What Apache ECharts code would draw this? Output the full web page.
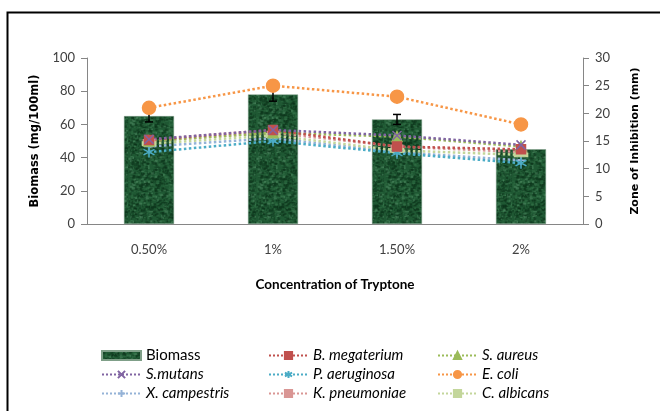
<!DOCTYPE html>
<html><head><meta charset="utf-8">
<script src="https://cdn.jsdelivr.net/npm/echarts@6/dist/echarts.min.js"></script>
<style>html,body{margin:0;padding:0;background:#fff}#c{width:660px;height:411px}</style>
</head><body><div id="c"></div>
<script>
const categories = ['0.50%', '1%', '1.50%', '2%'];
const biomass = [65, 78, 63, 45];
const biomassErr = [3.5, 4, 3, 2];
const sMutans = [15.3, 17, 16, 14.3];
const bMegaterium = [15.2, 17, 14, 13.5];
const sAureus = [15, 16.5, 15.8, 14];
const pAeruginosa = [13, 15, 12.8, 11];
const eColi = [21, 25, 23, 18];
const xCampestris = [14, 15.5, 13, 11.5];
const kPneumoniae = [15, 16.5, 14, 13];
const cAlbicans = [14.5, 16, 13.3, 12.5];
const leftTicks = {min: 0, max: 100, interval: 20};
const rightTicks = {min: 0, max: 30, interval: 5};

// texture for bars (style only)
const tex = document.createElement('canvas');
tex.width = 64; tex.height = 64;
(function(){
  const g = tex.getContext('2d');
  g.fillStyle = '#1f5833'; g.fillRect(0,0,64,64);
  let s = 98765;
  function r(){ s = (s * 1103515245 + 12345) & 0x7fffffff; return s / 0x7fffffff; }
  for (let i = 0; i < 1400; i++) {
    const x = r()*64, y = r()*64, v = r();
    g.fillStyle = v < 0.55 ? 'rgba(12,50,25,0.5)' : (v < 0.88 ? 'rgba(50,112,72,0.45)' : 'rgba(100,160,120,0.35)');
    g.fillRect(x, y, 1 + r()*2.5, 1 + r()*1.5);
  }
})();
const texColor = {image: tex, repeat: 'repeat'};

const FONT = 'Lato';
const chart = echarts.init(document.getElementById('c'), null, {renderer: 'canvas'});

function lineSeries(name, data, color, symbol, size, extra) {
  return Object.assign({
    name, type: 'line', yAxisIndex: 1, data,
    symbol, symbolSize: size,
    lineStyle: {color, width: 2.5, type: 'dotted'},
    itemStyle: {color, borderColor: color, borderWidth: 1.5},
    z: 5
  }, extra || {});
}

const crossP = 'path://M0,0L10,10M10,0L0,10';
const astP = 'path://M5,0L5,10M0,2.5L10,7.5M0,7.5L10,2.5';
const plusP = 'path://M5,0L5,10M0,5L10,5';

const legendBase = {orient: 'vertical', top: 343, itemWidth: 39, itemHeight: 9, itemGap: 4,
  textStyle: {fontSize: 15, color: '#000', fontStyle: 'italic', fontFamily: FONT}};

const option = {
  animation: false,
  textStyle: {fontFamily: FONT},
  graphic: [{type: 'rect', left: 5, top: 10, shape: {width: 700, height: 450}, style: {fill: 'none', stroke: '#000', lineWidth: 2}, silent: true}],
  grid: {left: 87, right: 77, top: 58, bottom: 187},
  xAxis: {
    type: 'category', data: categories,
    axisLine: {lineStyle: {color: '#868686', width: 1}},
    axisTick: {length: 6, lineStyle: {color: '#868686'}},
    axisLabel: {color: '#404040', fontSize: 13, margin: 19, fontFamily: FONT},
    name: 'Concentration of Tryptone', nameLocation: 'middle', nameGap: 54,
    nameTextStyle: {color: '#000', fontWeight: 'bold', fontSize: 13.5, fontFamily: FONT}
  },
  yAxis: [{
    type: 'value', min: leftTicks.min, max: leftTicks.max, interval: leftTicks.interval,
    splitLine: {show: false},
    axisLine: {show: true, lineStyle: {color: '#868686'}},
    axisTick: {show: true, length: 6, lineStyle: {color: '#868686'}},
    axisLabel: {color: '#404040', fontSize: 13, margin: 12, fontFamily: FONT},
    name: 'Biomass (mg/100ml)', nameLocation: 'middle', nameGap: 43, nameRotate: 90,
    nameTextStyle: {color: '#000', fontWeight: 'bold', fontSize: 11.5, fontFamily: 'DejaVu Sans'}
  }, {
    type: 'value', min: rightTicks.min, max: rightTicks.max, interval: rightTicks.interval,
    splitLine: {show: false},
    axisLine: {show: true, lineStyle: {color: '#868686'}},
    axisTick: {show: true, length: 6, lineStyle: {color: '#868686'}},
    axisLabel: {color: '#404040', fontSize: 13, margin: 12, fontFamily: FONT},
    name: 'Zone of Inhibition (mm)', nameLocation: 'middle', nameGap: 47, nameRotate: 90,
    nameTextStyle: {color: '#000', fontWeight: 'bold', fontSize: 11, fontFamily: 'DejaVu Sans'}
  }],
  legend: [
    Object.assign({}, legendBase, {left: 96,
     data: [{name: 'Biomass', icon: 'rect', textStyle: {fontStyle: 'normal'}}, 'S.mutans', 'X. campestris']}),
    Object.assign({}, legendBase, {left: 263,
     data: ['B. megaterium', 'P. aeruginosa', 'K. pneumoniae']}),
    Object.assign({}, legendBase, {left: 432,
     data: ['S. aureus', 'E. coli', 'C. albicans']})
  ],
  series: [
    {name: 'Biomass', type: 'bar', data: biomass, barWidth: 50,
     itemStyle: {color: texColor, borderColor: '#7f9f88', borderWidth: 0.5}, z: 2},
    {name: 'err', type: 'custom', yAxisIndex: 0, z: 4,
     data: biomass.map((v, i) => [i, v, biomassErr[i]]),
     renderItem: function (params, api) {
       const x = api.value(0), v = api.value(1), e = api.value(2);
       const hi = api.coord([x, v + e]), lo = api.coord([x, v - e]);
       const w = 4;
       return {type: 'group', children: [
         {type: 'line', shape: {x1: hi[0], y1: hi[1], x2: lo[0], y2: lo[1]}, style: {stroke: '#000', lineWidth: 1.5}},
         {type: 'line', shape: {x1: hi[0]-w, y1: hi[1], x2: hi[0]+w, y2: hi[1]}, style: {stroke: '#000', lineWidth: 1.5}},
         {type: 'line', shape: {x1: lo[0]-w, y1: lo[1], x2: lo[0]+w, y2: lo[1]}, style: {stroke: '#000', lineWidth: 1.5}}
       ]};
     }},
    lineSeries('X. campestris', xCampestris, '#95b3d7', plusP, 10),
    lineSeries('K. pneumoniae', kPneumoniae, '#d99694', 'rect', [10, 3]),
    lineSeries('C. albicans', cAlbicans, '#c3d69b', 'rect', [12, 4]),
    lineSeries('P. aeruginosa', pAeruginosa, '#4bacc6', astP, 11),
    lineSeries('S. aureus', sAureus, '#9bbb59', 'triangle', 10),
    lineSeries('B. megaterium', bMegaterium, '#c0504d', 'rect', 9),
    lineSeries('S.mutans', sMutans, '#8064a2', crossP, 9),
    lineSeries('E. coli', eColi, '#f79646', 'circle', 13, {z: 6})
  ]
};
chart.setOption(option);
</script></body></html>
